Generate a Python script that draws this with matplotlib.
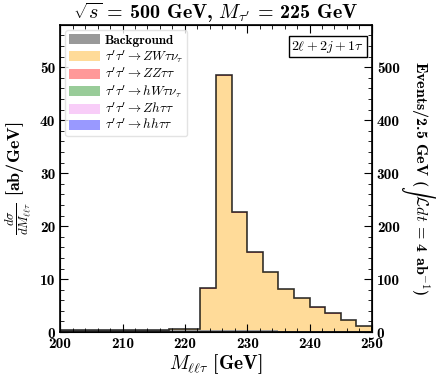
import numpy as np
import matplotlib
matplotlib.use("Agg")
import matplotlib.pyplot as plt
from matplotlib.ticker import MultipleLocator

plt.rcParams['font.family'] = ['cmb10', 'DejaVu Serif']
plt.rcParams['mathtext.fontset'] = 'cm'
plt.rcParams['axes.unicode_minus'] = False

# bin edges, 2.5 GeV bins
edges = np.arange(200, 252.5, 2.5)

background = [0.30, 0.30, 0.30, 0.30, 0.30, 0.30, 0.35, 0.40, 0.40, 0.30,
              0.30, 0.30, 0.30, 0.30, 0.25, 0.25, 0.20, 0.20, 0.20, 0.15]
zw_taunu = [0.00, 0.00, 0.00, 0.00, 0.00, 0.00, 0.05, 0.10, 0.25, 7.90,
            48.0, 22.2, 14.7, 11.0, 7.8, 6.1, 4.4, 3.3, 2.1, 1.0]
zz_tautau = [0.00, 0.00, 0.00, 0.00, 0.00, 0.00, 0.00, 0.00, 0.00, 0.05,
             0.30, 0.15, 0.10, 0.10, 0.08, 0.08, 0.05, 0.05, 0.05, 0.05]
hw_taunu = [0.0] * 20
zh_tautau = [0.0] * 20
hh_tautau = [0.0] * 20

labels = ['Background',
          r"$\tau'\tau' \rightarrow ZW\tau\nu_\tau$",
          r"$\tau'\tau' \rightarrow ZZ\tau\tau$",
          r"$\tau'\tau' \rightarrow hW\tau\nu_\tau$",
          r"$\tau'\tau' \rightarrow Zh\tau\tau$",
          r"$\tau'\tau' \rightarrow hh\tau\tau$"]
colors = ['black', 'orange', 'red', 'green', 'violet', 'blue']

series = [background, zw_taunu, zz_tautau, hw_taunu, zh_tautau, hh_tautau]

fig = plt.figure(figsize=(4.36, 3.83), dpi=100)
ax = fig.add_axes([0.138, 0.133, 0.715, 0.802])

base = np.zeros(len(edges) - 1)
for s, c, lab in zip(series, colors, labels):
    s = np.asarray(s, float)
    ax.stairs(base + s, edges, baseline=base, fill=True, color=c, alpha=0.4,
              label=lab, linewidth=0)
    base = base + s
ax.stairs(base, edges, color='black', linewidth=1.2, alpha=0.8)

ax.set_xlim(200, 250)
ax.set_ylim(0, 58)
ax.xaxis.set_major_locator(MultipleLocator(10))
ax.xaxis.set_minor_locator(MultipleLocator(2))
ax.yaxis.set_major_locator(MultipleLocator(10))
ax.yaxis.set_minor_locator(MultipleLocator(2))
ax.tick_params(which='both', direction='in', top=True, right=False, labelsize=11)
ax.tick_params(which='major', length=6)
ax.tick_params(which='minor', length=3)
for sp in ax.spines.values():
    sp.set_linewidth(1.2)

ax.set_xlabel(r"$M_{\ell\ell\tau}$ [GeV]", fontsize=14, labelpad=1)
ax.set_ylabel(r"$\frac{d\sigma}{dM_{\ell\ell\tau}}$ [ab/GeV]", fontsize=13, labelpad=4)
ax.set_title(r"$\sqrt{s}$ = 500 GeV, $M_{\tau'}$ = 225 GeV", fontsize=14.5, pad=3)

ax2 = ax.twinx()
ax2.set_ylim(0, 580)
ax2.yaxis.set_major_locator(MultipleLocator(100))
ax2.yaxis.set_minor_locator(MultipleLocator(20))
ax2.tick_params(which='both', direction='in', labelsize=11)
ax2.tick_params(which='major', length=6)
ax2.tick_params(which='minor', length=3)
ax2.set_ylabel(r"Events/2.5 GeV ($\int\mathcal{L}dt$ = 4 ab$^{-1}$)",
               fontsize=11.5, rotation=270, va='center')
ax2.yaxis.set_label_coords(1.155, 0.5)

leg = ax.legend(loc='upper left', fontsize=9.5, handlelength=2.3, handleheight=0.8,
                borderpad=0.3, labelspacing=0.12, handletextpad=0.4,
                frameon=True, fancybox=True, borderaxespad=0.4)
leg.get_frame().set_edgecolor('#dddddd')

ax.text(0.975, 0.955, r"$2\ell+2j+1\tau$", transform=ax.transAxes, ha='right',
        va='top', fontsize=10,
        bbox=dict(boxstyle='square,pad=0.2', fc='white', ec='black', lw=1))

fig.savefig('out.png', dpi=100)
